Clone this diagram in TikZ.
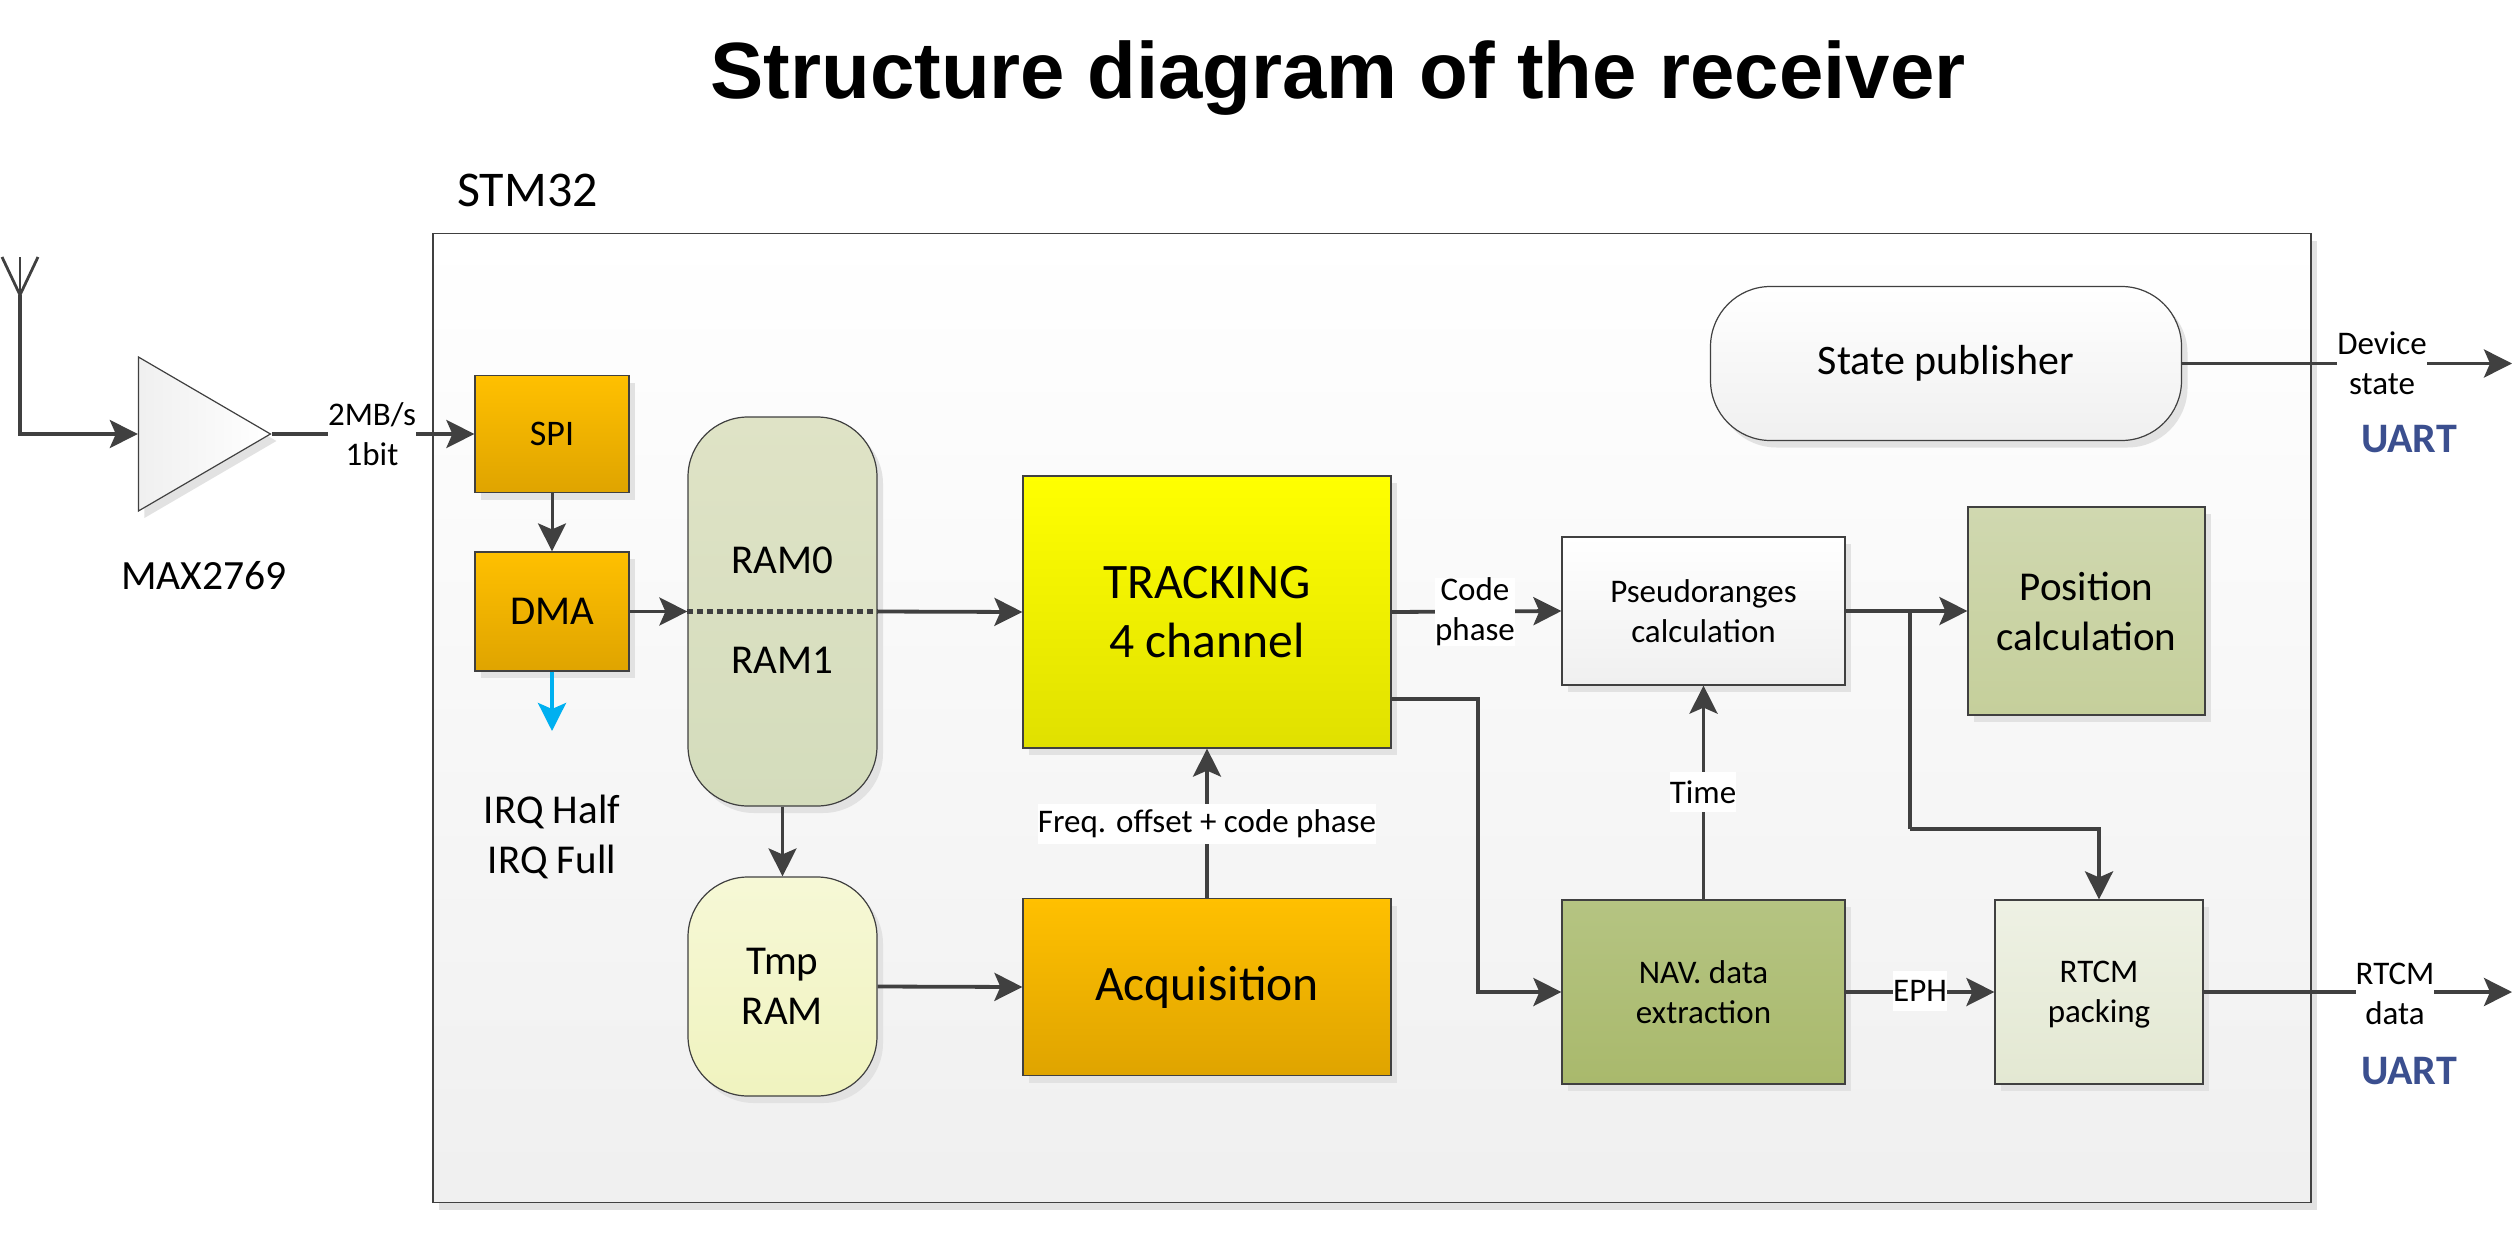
\documentclass[tikz,border=0pt]{standalone}
\usepackage{fontspec}
\setmainfont{Carlito}
\newfontfamily\titlefont{Liberation Sans}
\usetikzlibrary{arrows.meta}
\usetikzlibrary{shapes.geometric}
\usetikzlibrary{shadows}

\definecolor{linegray}{HTML}{404040}
\definecolor{shadegray}{HTML}{E2E2E2}
\definecolor{uartblue}{HTML}{3B4F8F}
\definecolor{irqblue}{HTML}{00B0F0}
\definecolor{orangetop}{HTML}{FFC000}
\definecolor{orangelow}{HTML}{DFA400}
\definecolor{yellowlow}{HTML}{E0E000}
\definecolor{ramtop}{HTML}{DFE3C6}
\definecolor{ramlow}{HTML}{D4DCBC}
\definecolor{tmptop}{HTML}{F6F8D6}
\definecolor{tmplow}{HTML}{F0F3BF}
\definecolor{postop}{HTML}{D0D8B0}
\definecolor{poslow}{HTML}{C5CF9B}
\definecolor{navtop}{HTML}{B5C482}
\definecolor{navlow}{HTML}{A9B96C}
\definecolor{rtcmtop}{HTML}{EEF1E4}
\definecolor{rtcmlow}{HTML}{E3E8D2}

\tikzset{
  txtsmall/.style={font=\fontsize{16.5}{20}\selectfont},
  txtmid/.style={font=\fontsize{20.5}{25}\selectfont},
  txtbig/.style={font=\fontsize{24.8}{29.5}\selectfont},
  blockbox/.style={draw=linegray, line width=.6pt, inner sep=0pt, align=center,
    drop shadow={shadow xshift=3pt, shadow yshift=-3.5pt, fill=shadegray, opacity=1}},
  roundbox/.style={blockbox, rounded corners=30pt},
  orangefill/.style={top color=orangetop, bottom color=orangelow},
  greyfill/.style={top color=white, bottom color=black!6},
  conn/.style={draw=linegray, line width=1.9pt, -{Stealth[length=14pt, width=14pt, inset=3pt]}},
  plainconn/.style={draw=linegray, line width=1.9pt},
  linklabel/.style={txtsmall, fill=white, align=center, inner sep=0pt, minimum height=20pt},
  uartlabel/.style={font=\fontsize{21}{25}\selectfont\bfseries, text=uartblue},
}

\begin{document}
\begin{tikzpicture}[x=.5pt, y=-.5pt]
\useasboundingbox (0,-2) rectangle (2514,1250);

\node[font=\titlefont\fontsize{39.9}{46}\selectfont\bfseries] (title) at (1338,76) {Structure diagram of the receiver};
\node[font=\fontsize{25}{29}\selectfont] (stmname) at (527.5,188.5) {STM32};

% chip outline
\node[blockbox, greyfill, minimum width=939pt, minimum height=484.5pt] (stm) at (1372,716) {};

% antenna and amplifier
\coordinate (anttop) at (20,255);
\coordinate (antfoot) at (20,293);
\coordinate (antleft) at (2,255);
\coordinate (antright) at (38,255);
\node[blockbox, isosceles triangle, isosceles triangle stretches, minimum width=77pt, minimum height=66pt,
  left color=black!6, right color=white, anchor=apex] (amp) at (272,432) {};
\node[font=\fontsize{20.8}{25}\selectfont] (maxname) at (204,574) {MAX2769};

% blocks
\node[blockbox, orangefill, font=\fontsize{18}{22}\selectfont, minimum width=77pt, minimum height=58.5pt] (spi) at (552,432) {SPI};
\node[blockbox, orangefill, txtmid, minimum width=77pt, minimum height=59.5pt] (dma) at (552,609.5) {DMA};
\node[roundbox, top color=ramtop, bottom color=ramlow, minimum width=94.5pt, minimum height=194.5pt] (ram) at (782.5,609.5) {};
\node[roundbox, txtmid, top color=tmptop, bottom color=tmplow, minimum width=94.5pt, minimum height=109.5pt] (tmpram) at (782.5,984.5) {Tmp\\RAM};
\node[blockbox, txtbig, top color=yellow, bottom color=yellowlow, minimum width=184pt, minimum height=136pt] (tracking) at (1207,610) {TRACKING\\4 channel};
\node[blockbox, txtbig, orangefill, minimum width=184pt, minimum height=88.5pt] (acq) at (1207,985) {Acquisition};
\node[blockbox, txtsmall, greyfill, minimum width=141.5pt, minimum height=74pt] (pseudo) at (1703.5,609) {Pseudoranges\\calculation};
\node[blockbox, txtmid, top color=postop, bottom color=poslow, minimum width=118.5pt, minimum height=104pt] (position) at (2086.5,609) {Position\\calculation};
\node[roundbox, font=\fontsize{21}{25}\selectfont, greyfill, minimum width=235.5pt, minimum height=77pt] (state) at (1946,361.5) {State publisher};
\node[blockbox, txtsmall, top color=navtop, bottom color=navlow, minimum width=141.5pt, minimum height=92pt] (nav) at (1703.5,990) {NAV. data\\extraction};
\node[blockbox, txtsmall, top color=rtcmtop, bottom color=rtcmlow, minimum width=104pt, minimum height=92pt] (rtcm) at (2099,990) {RTCM\\\smash{packing}};

\node[txtmid] (ramzero) at (782,558) {RAM0};
\node[txtmid] (ramone) at (782,658) {RAM1};
\node[txtmid, align=center] (irq) at (552,835) {IRQ Half\\IRQ Full};
\node[uartlabel] (uartstate) at (2409,437) {UART};
\node[uartlabel] (uartrtcm) at (2409,1069) {UART};

% free ends and corners
\coordinate (statestub) at (2512,361.5);
\coordinate (rtcmstub) at (2512,990);
\coordinate (irqstub) at (552,729);
\coordinate (trackout) at (1391,697);
\coordinate (navturn) at (1478,697);
\coordinate (branch) at (1910,609);
\coordinate (branchlow) at (1910,827);

% connectors
\draw[plainconn, line width=1.4pt] (antleft) -- (antfoot) -- (antright);
\draw[plainconn, line width=1.4pt] (anttop) -- (antfoot);
\draw[conn] (antfoot) |- (amp.lower side);
\draw[conn] (amp.apex) -- (spi.west);
\draw[conn, line width=1.5pt] (spi.south) -- (dma.north);
\draw[conn] (dma.east) -- (ram.west);
\draw[plainconn, line width=2.2pt, dash pattern=on 3pt off 2pt] (ram.west) -- (ram.east);
\draw[conn] (ram.east) -- (tracking.west);
\draw[draw=irqblue, line width=1.9pt, -{Stealth[length=14pt, width=14pt, inset=3pt]}] (dma.south) -- (irqstub);
\draw[conn, line width=1.5pt] (ram.south) -- (tmpram.north);
\draw[conn] (tmpram.east) -- (acq.west);
\draw[conn] (acq.north) -- (tracking.south);
\draw[conn] (tracking.east) -- (pseudo.west);
\draw[conn] (trackout) -- (navturn) |- (nav.west);
\draw[conn] (nav.north) -- (pseudo.south);
\draw[conn] (pseudo.east) -- (position.west);
\draw[plainconn] (branch) -- (branchlow);
\draw[conn] (branchlow) -| (rtcm.north);
\draw[conn] (nav.east) -- (rtcm.west);
\draw[conn] (state.east) -- (statestub);
\draw[conn] (rtcm.east) -- (rtcmstub);

% labels on the connectors
\node[linklabel] (rate) at (372,432) {2MB/s\\1bit};
\node[linklabel] (freq) at (1207,822) {Freq. offset + code phase};
\node[linklabel] (code) at (1475,610) {Code\\phase};
\node[linklabel] (timelab) at (1703,790) {Time};
\node[linklabel] (eph) at (1920,989) {EPH};
\node[linklabel] (devstate) at (2382,361) {Device\\state};
\node[linklabel] (rtcmdata) at (2395,992) {RTCM\\data};

\end{tikzpicture}
\end{document}
